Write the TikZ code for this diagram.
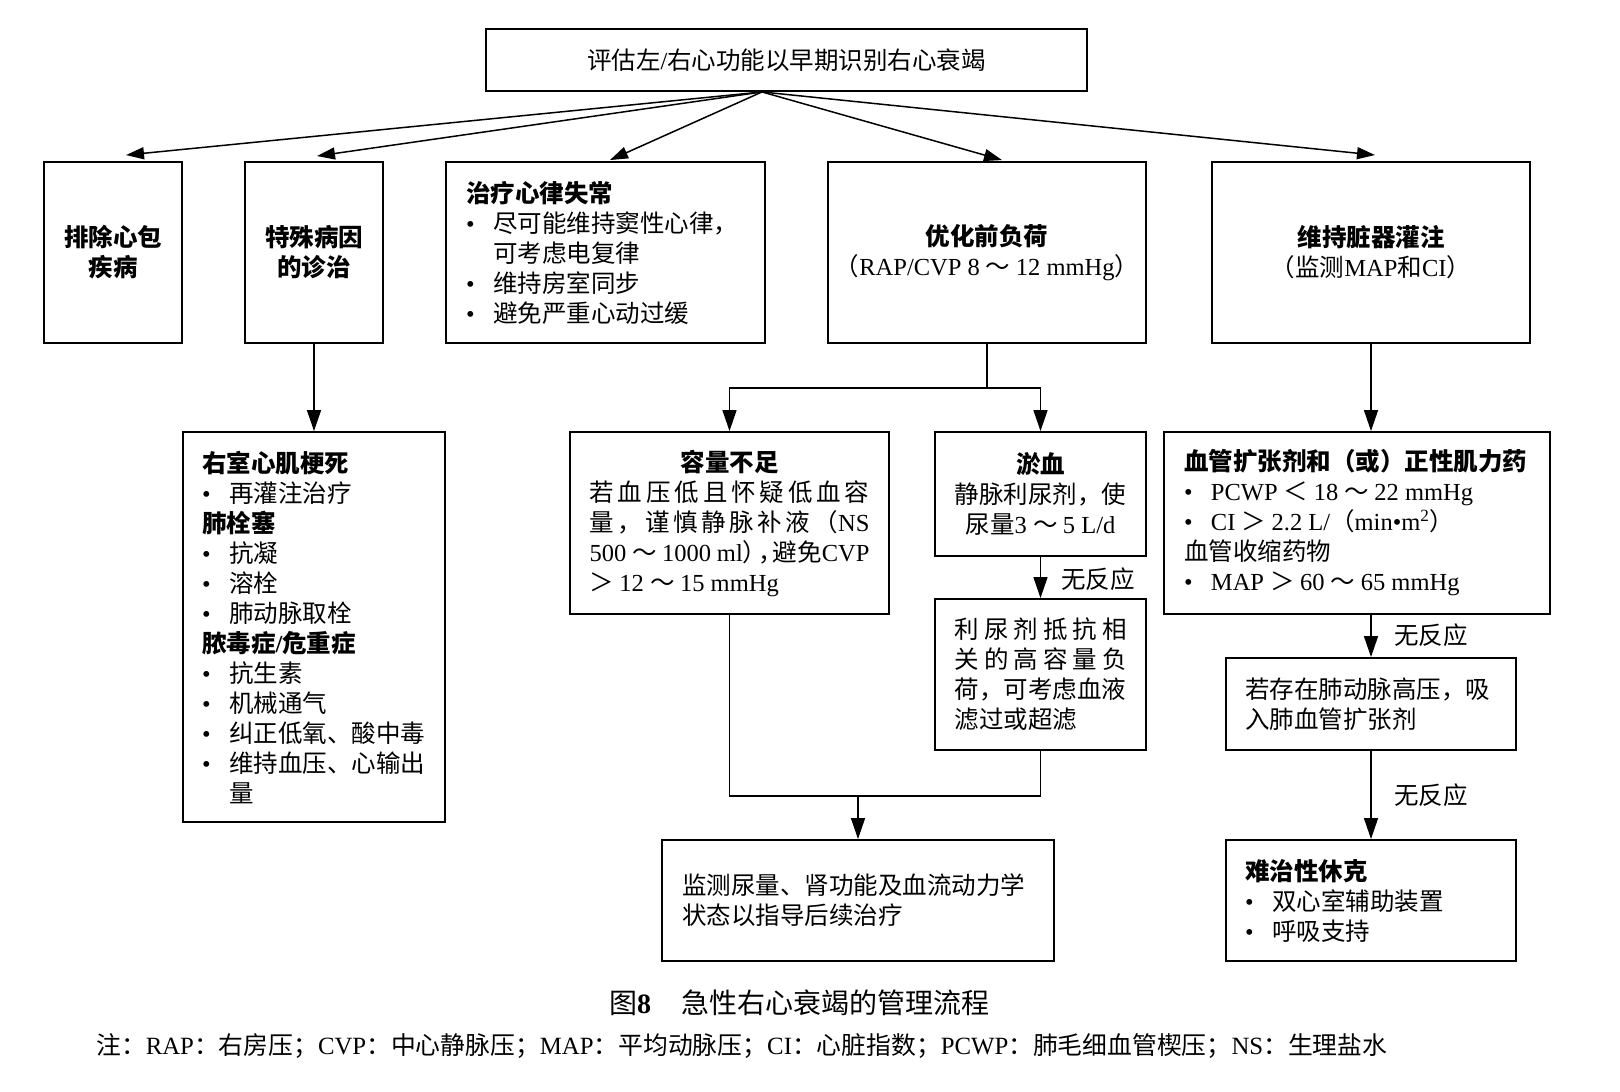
\documentclass[tikz,border=0pt]{standalone}
\usepackage{fontspec}
\setmainfont{Liberation Serif}
\newfontfamily\cjk{Noto Sans CJK SC}
\usetikzlibrary{arrows.meta}
% --- automatic switch between Latin (Liberation Serif) and CJK (Noto Sans CJK SC)
\XeTeXinterchartokenstate=1
\newcount\cjkcnt
\newXeTeXintercharclass\CJKcls
\def\setcjkrange#1#2{\cjkcnt=#1\relax
  \loop\XeTeXcharclass\cjkcnt=\CJKcls\relax
  \ifnum\cjkcnt<#2\relax\advance\cjkcnt by 1\relax\repeat}
\setcjkrange{"4E00}{"9FFF}
\setcjkrange{"3000}{"303F}
\setcjkrange{"FF01}{"FF5E}
\XeTeXcharclass"2022=0
\XeTeXinterchartoks 0 \CJKcls = {\cjk}
\XeTeXinterchartoks 4095 \CJKcls = {\cjk}
\XeTeXinterchartoks \CJKcls 0 = {\rmfamily}
\XeTeXinterchartoks 4095 0 = {\rmfamily}
\XeTeXinterchartoks \CJKcls \CJKcls = {\nobreak\hskip0pt plus 0.2em\relax}
\newcommand\bulitem{\makebox[27pt][l]{•}}
\newcommand\jline[2]{\makebox[#1][s]{#2}}
\newcommand\contline{\hspace*{27pt}}
\begin{document}
\begin{tikzpicture}[x=1pt,y=-1pt,
  box/.style={draw, line width=1.9pt, inner sep=0pt,
    font=\fontsize{24.5}{30}\selectfont},
  boldbox/.style={box, font=\fontsize{24.5}{30}\selectfont\bfseries},
  lbl/.style={inner sep=0pt, font=\fontsize{24.5}{30}\selectfont},
  conn/.style={line width=1.5pt},
  arrT/.style={conn, -{Triangle[length=18pt,width=12pt]}},
  arrV/.style={conn, -{Triangle[length=21pt,width=14pt]}}]
\useasboundingbox (0,0) rectangle (1620,1092);
\fill[white] (0,0) rectangle (1620,1092);

% top
\node[box, minimum width=601pt, minimum height=62pt, text width=580pt, align=flush center]
  (T) at (786.5,60) {评估左/右心功能以早期识别右心衰竭};

% row 1
\node[boldbox, minimum width=138pt, minimum height=181pt, text width=120pt, align=flush center]
  (B1) at (113,252.5) {排除心包\\疾病};
\node[boldbox, minimum width=138pt, minimum height=181pt, text width=120pt, align=flush center]
  (B2) at (314,252.5) {特殊病因\\的诊治};
\node[box, minimum width=319pt, minimum height=181pt, text width=279pt, align=flush left]
  (B3) at (605.5,252.5) {\textbf{治疗心律失常}\\
  \bulitem 尽可能维持窦性心律，\\
  \contline 可考虑电复律\\
  \bulitem 维持房室同步\\
  \bulitem 避免严重心动过缓};
\node[box, minimum width=318pt, minimum height=181pt, text width=316pt, align=flush center]
  (B4) at (987,252.5) {\textbf{优化前负荷}\\（RAP/CVP 8 ～ 12 mmHg）};
\node[box, minimum width=318pt, minimum height=181pt, text width=316pt, align=flush center]
  (B5) at (1371,252.5) {\textbf{维持脏器灌注}\\（监测MAP和CI）};

% left branch
\node[box, minimum width=262pt, minimum height=390pt, text width=224pt, align=flush left]
  (L) at (314,627) {\textbf{右室心肌梗死}\\
  \bulitem 再灌注治疗\\
  \textbf{肺栓塞}\\
  \bulitem 抗凝\\
  \bulitem 溶栓\\
  \bulitem 肺动脉取栓\\
  \textbf{脓毒症/危重症}\\
  \bulitem 抗生素\\
  \bulitem 机械通气\\
  \bulitem 纠正低氧、酸中毒\\
  \bulitem 维持血压、心输出\\
  \contline 量};

% middle branch
\node[box, minimum width=319pt, minimum height=182pt, text width=280pt, align=flush left]
  (V) at (729.5,523) {\makebox[280pt]{\textbf{容量不足}}\\
  \jline{280pt}{若血压低且怀疑低血容}\\
  \jline{280pt}{量，谨慎静脉补液（NS}\\
  \jline{280pt}{500 ～ 1000 ml）\hspace{-9pt}，\hspace{-10pt}避免CVP}\\
  ＞ 12 ～ 15 mmHg};
\node[box, minimum width=211pt, minimum height=124pt, text width=200pt, align=flush center]
  (U) at (1040.5,494) {\textbf{淤血}\\静脉利尿剂，使\\尿量3 ～ 5 L/d};
\node[box, minimum width=211pt, minimum height=151pt, text width=172pt, align=flush left]
  (R2) at (1040.5,674.5) {\jline{172pt}{利尿剂抵抗相}\\
  \jline{172pt}{关的高容量负}\\
  荷，可考虑血液\\
  滤过或超滤};
\node[box, minimum width=392pt, minimum height=121pt, text width=352pt, align=flush left]
  (M) at (858,900.5) {监测尿量、肾功能及血流动力学\\状态以指导后续治疗};

% right branch
\node[box, minimum width=386pt, minimum height=182pt, text width=346pt, align=flush left]
  (VS) at (1357,523) {\textbf{血管扩张剂和（或）正性肌力药}\\
  \bulitem PCWP ＜ 18 ～ 22 mmHg\\
  \bulitem CI ＞ 2.2 L/（min•m\textsuperscript{2}）\\
  血管收缩药物\\
  \bulitem MAP ＞ 60 ～ 65 mmHg};
\node[box, minimum width=290pt, minimum height=92pt, text width=252pt, align=flush left]
  (PH) at (1371,704) {若存在肺动脉高压，吸\\入肺血管扩张剂};
\node[box, minimum width=290pt, minimum height=121pt, text width=252pt, align=flush left]
  (RS) at (1371,900.5) {\textbf{难治性休克}\\
  \bulitem 双心室辅助装置\\
  \bulitem 呼吸支持};

% labels
\node[lbl] (n1) at (1098,579) {无反应};
\node[lbl] (n2) at (1431,635) {无反应};
\node[lbl] (n3) at (1431,795) {无反应};

% caption and note
\node[inner sep=0pt, font=\fontsize{28}{34}\selectfont] (cap) at (799,1003)
  {图\textbf{8}\hspace{30pt}急性右心衰竭的管理流程};
\node[inner sep=0pt, anchor=west, font=\fontsize{24.8}{30}\selectfont] (note) at (96,1046)
  {注：RAP：右房压；CVP：中心静脉压；MAP：平均动脉压；CI：心脏指数；PCWP：肺毛细血管楔压；NS：生理盐水};

% connectors from top
\coordinate (src) at ([xshift=-24.5pt]T.south);
\draw[arrT] (src) -- ([xshift=13pt,yshift=6pt]B1.north);
\draw[arrT] (src) -- ([xshift=3pt,yshift=5pt]B2.north);
\draw[arrT] (src) -- ([xshift=4.5pt,yshift=1pt]B3.north);
\draw[arrT] (src) -- ([xshift=15pt,yshift=1pt]B4.north);
\draw[arrT] (src) -- ([xshift=4pt,yshift=6pt]B5.north);

\draw[arrV] (B2.south) -- (L.north);

\coordinate (j1) at ([yshift=-44pt]B4.south);
\draw[conn] (B4.south) -- (j1);
\draw[arrV] (j1) -| (V.north);
\draw[arrV] (j1) -| (U.north);
\draw[arrV] (U.south) -- (R2.north);
\coordinate (j2) at (858,796);
\draw[conn] (V.south) |- (j2) -| (R2.south);
\draw[arrV] (j2) -- (M.north);

\draw[arrV] (B5.south) -- (B5.south |- VS.north);
\draw[arrV] (PH.north |- VS.south) -- (PH.north);
\draw[arrV] (PH.south) -- (RS.north);
\end{tikzpicture}
\end{document}
